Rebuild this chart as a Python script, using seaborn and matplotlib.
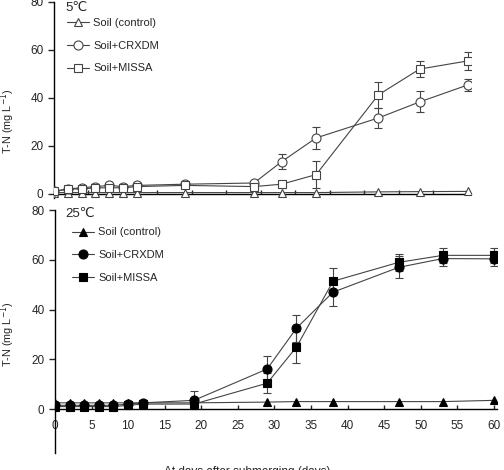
import numpy as np
import pandas as pd
import seaborn as sns
import matplotlib.pyplot as plt

# Days after submerging
days = [0, 2, 4, 6, 8, 10, 12, 19, 29, 33, 38, 47, 53, 60]

# 5 C panel
cold_control = [0.5, 0.5, 0.5, 0.5, 0.5, 0.5, 0.5, 0.5, 0.5, 0.5, 0.5, 0.8, 0.9, 1.0]
cold_crxdm = [1.0, 2.0, 2.5, 3.0, 3.5, 3.0, 3.5, 4.0, 4.5, 13.4, 23.3, 31.6, 38.3, 45.4]
cold_crxdm_err = [0, 0, 0, 1.0, 1.0, 1.0, 1.0, 1.0, 1.0, 3.1, 4.6, 4.2, 4.4, 2.4]
cold_missa = [1.0, 2.0, 2.0, 2.5, 2.5, 2.5, 3.0, 3.5, 3.0, 4.0, 8.0, 41.2, 52.0, 55.4]
cold_missa_err = [0, 0, 0, 0, 0, 0, 0, 0, 1.0, 1.5, 5.5, 5.5, 3.5, 3.7]

# 25 C panel
warm_control = [2.5, 2.5, 2.5, 2.5, 2.5, 2.5, 2.5, 2.5, 2.8, 3.0, 3.0, 3.0, 3.0, 3.5]
warm_crxdm = [1.5, 1.5, 1.5, 1.5, 1.5, 2.0, 2.5, 3.5, 16.1, 32.5, 47.0, 57.0, 60.5, 60.4]
warm_crxdm_err = [0, 0, 0, 0, 0, 0, 0, 3.6, 5.3, 5.4, 5.6, 4.4, 3.0, 3.0]
warm_missa = [1.0, 1.0, 1.0, 1.0, 1.0, 1.5, 2.0, 2.0, 10.4, 24.9, 51.4, 59.0, 61.8, 61.8]
warm_missa_err = [0, 0, 0, 0, 0, 0, 0, 0, 4.0, 6.4, 5.2, 3.5, 3.0, 3.0]

labels = ["Soil (control)", "Soil+CRXDM", "Soil+MISSA"]
ticks_x = list(range(0, 61, 5))
ticks_y = [0, 20, 40, 60, 80]

sns.set_theme(style="ticks")
plt.rcParams["font.family"] = ["Liberation Sans", "DejaVu Sans"]
plt.rcParams["font.size"] = 8.5

fig = plt.figure(figsize=(5.04, 4.70), dpi=100)
ax_top = fig.add_axes([0.107, 0.579, 0.827, 0.417])
ax_bot = fig.add_axes([0.109, 0.036, 0.877, 0.517])


def draw_panel(ax, series, errs, filled, ylim):
    markers = ["^", "o", "s"]
    for vals, err, mk, lab in zip(series, errs, markers, labels):
        df = pd.DataFrame({"day": days, "tn": vals})
        sns.lineplot(
            data=df, x="day", y="tn", ax=ax,
            color="#444444", linewidth=0.8,
            marker=mk, markersize=6 if mk != "o" else 6.5,
            markerfacecolor="black" if filled else "white",
            markeredgecolor="black" if filled else "#444444",
            markeredgewidth=0.8,
            label=lab, zorder=3,
        )
        if err is not None:
            e = np.array(err, dtype=float)
            m = e > 0
            ax.errorbar(np.array(days)[m], np.array(vals)[m], yerr=e[m],
                        fmt="none", ecolor="#444444", elinewidth=0.8,
                        capsize=3, capthick=0.8, zorder=2)
    ax.set_xlim(0, 60.4)
    ax.set_ylim(*ylim)
    ax.set_xticks(ticks_x)
    ax.set_yticks(ticks_y)
    ax.spines["top"].set_visible(False)
    ax.spines["right"].set_visible(False)
    ax.spines["bottom"].set_position(("data", 0))
    for s in ("left", "bottom"):
        ax.spines[s].set_linewidth(1.0)
        ax.spines[s].set_color("black")
    ax.tick_params(axis="x", direction="in", length=3, width=1.0, pad=8)
    ax.tick_params(axis="y", direction="out", length=4, width=1.0, labelsize=8.5)
    ax.set_xlabel("")
    ax.set_ylabel("T-N (mg L$^{-1}$)", fontsize=7.8)
    return ax


draw_panel(ax_top, [cold_control, cold_crxdm, cold_missa],
           [None, cold_crxdm_err, cold_missa_err], False, (-1.7, 80))
draw_panel(ax_bot, [warm_control, warm_crxdm, warm_missa],
           [None, warm_crxdm_err, warm_missa_err], True, (-17.7, 80))

ax_top.tick_params(axis="x", labelbottom=False)
ax_bot.tick_params(axis="x", labelsize=8.5)

fig.text(65 / 504, 1 - 8 / 470, "5\u2103", fontsize=9.5, ha="left", va="center")
fig.text(65 / 504, 1 - 214 / 470, "25\u2103", fontsize=9.5, ha="left", va="center")

for ax, anchor in ((ax_top, (0.133, 0.962)), (ax_bot, (0.143, 0.516))):
    ax.legend(loc="upper left", bbox_to_anchor=anchor, bbox_transform=fig.transFigure,
              frameon=False, fontsize=8, handlelength=2.0, handletextpad=0.35,
              labelspacing=1.15, borderpad=0, borderaxespad=0)

ax_top.yaxis.set_label_coords(-0.088, 0.39)
ax_bot.yaxis.set_label_coords(-0.085, 0.49)

fig.text(0.49, -0.005, "At days after submerging (days)", ha="center", va="center",
         fontsize=8.5)

fig.savefig("out.png", dpi=100)
plt.close()
